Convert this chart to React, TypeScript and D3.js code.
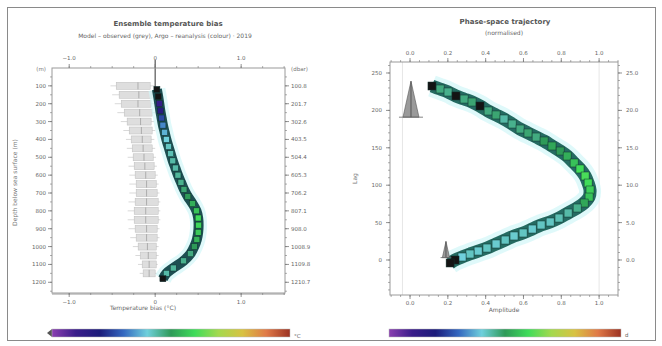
import React from 'react';
import * as d3 from 'd3';

const W = 662;
const H = 346;

// colour map (colour bar)
const cmapStops = [0, 0.1, 0.2, 0.3, 0.4, 0.5, 0.6, 0.7, 0.8, 0.9, 1];
const cmapColors = ['#8a3fb0', '#3a1d8a', '#1c1c7a', '#3468c0', '#6fd0dc', '#2e9a58', '#3fdc5a', '#a4d94e', '#d8c242', '#e07a48', '#9c3222'];

// left panel: depth profile
const depthTicks = [100, 200, 300, 400, 500, 600, 700, 800, 900, 1000, 1100, 1200];
const presLabels = ['100.8', '201.7', '302.6', '403.5', '504.4', '605.3', '706.2', '807.1', '908.0', '1008.9', '1109.8', '1210.7'];
const leftXTicks = [-1, 0, 1];

const profDepth = [120, 160, 200, 240, 280, 320, 360, 400, 440, 480, 520, 560, 600, 640, 680, 720, 760, 800, 840, 880, 920, 960, 1000, 1040, 1080, 1120, 1150, 1180];
const profValue = [0.02, 0.035, 0.048, 0.06, 0.075, 0.09, 0.11, 0.13, 0.155, 0.18, 0.205, 0.235, 0.265, 0.3, 0.335, 0.38, 0.435, 0.48, 0.5, 0.505, 0.5, 0.485, 0.455, 0.41, 0.33, 0.21, 0.13, 0.09];
const profColor = [-1, -1, 0.12, 0.16, 0.26, 0.33, 0.37, 0.4, 0.42, 0.43, 0.44, 0.44, 0.45, 0.46, 0.48, 0.5, 0.53, 0.56, 0.6, 0.59, 0.57, 0.54, 0.5, 0.47, 0.46, 0.45, 0.44, -1];

const boxDepth = [100, 150, 200, 250, 300, 350, 400, 450, 500, 550, 600, 650, 700, 750, 800, 850, 900, 950, 1000, 1050, 1100, 1150];
const boxQ1 = [-0.453, -0.419, -0.395, -0.36, -0.326, -0.302, -0.279, -0.267, -0.256, -0.244, -0.233, -0.221, -0.221, -0.233, -0.244, -0.244, -0.233, -0.221, -0.198, -0.174, -0.151, -0.14];
const boxQ3 = [-0.058, -0.035, -0.047, -0.035, -0.047, -0.035, -0.047, -0.035, -0.023, -0.012, 0, 0.012, 0.023, 0.035, 0.035, 0.035, 0.023, 0.023, 0.012, 0.012, 0.012, 0];
const boxMed = [-0.2, -0.19, -0.2, -0.18, -0.17, -0.16, -0.15, -0.14, -0.13, -0.12, -0.11, -0.1, -0.1, -0.1, -0.11, -0.11, -0.1, -0.1, -0.09, -0.08, -0.07, -0.07];
const boxLo = [-0.52, -0.5, -0.47, -0.44, -0.4, -0.37, -0.34, -0.33, -0.32, -0.31, -0.3, -0.3, -0.3, -0.31, -0.32, -0.32, -0.31, -0.29, -0.26, -0.23, -0.2, -0.18];
const boxHi = [-0.01, 0.0, -0.01, 0.0, -0.01, 0.0, -0.01, 0.0, 0.01, 0.02, 0.03, 0.04, 0.05, 0.06, 0.06, 0.06, 0.05, 0.05, 0.04, 0.04, 0.03, 0.02];

// right panel: trajectory
const rightXTicks = [0, 0.2, 0.4, 0.6, 0.8, 1.0];
const rightYTicks = [250, 200, 150, 100, 50, 0];
const rightYLabels2 = ['25.0', '20.0', '15.0', '10.0', '5.0', '0.0'];

const trajX = [0.116, 0.159, 0.201, 0.243, 0.286, 0.328, 0.37, 0.413, 0.455, 0.497, 0.54, 0.582, 0.624, 0.667, 0.709, 0.751, 0.794, 0.831, 0.868, 0.899, 0.926, 0.942, 0.952, 0.947, 0.921, 0.884, 0.836, 0.788, 0.741, 0.693, 0.646, 0.598, 0.55, 0.503, 0.455, 0.407, 0.36, 0.317, 0.275, 0.238, 0.212];
const trajY = [232.6, 228.6, 224.6, 219.3, 215.2, 211.2, 205.9, 199.2, 193.9, 188.5, 181.8, 175.1, 169.8, 164.4, 159.1, 152.4, 145.7, 139.0, 129.7, 121.7, 112.3, 102.9, 93.6, 84.2, 76.2, 69.5, 62.8, 56.1, 50.8, 46.8, 41.4, 36.1, 32.1, 26.7, 21.4, 16.0, 12.0, 8.0, 4.0, 0, -4.0];
const trajC = [-1, 0.47, 0.46, -1, 0.47, 0.48, -1, 0.47, 0.48, 0.44, 0.46, 0.47, 0.48, 0.47, 0.5, 0.52, 0.5, 0.53, 0.56, 0.6, 0.61, 0.6, 0.58, 0.56, 0.52, 0.46, 0.44, 0.43, 0.42, 0.42, 0.41, 0.42, 0.41, 0.42, 0.41, 0.42, 0.41, 0.42, 0.4, -1, -1];

const glyphX = [0.005, 0.19];
const glyphY = [215, 14];
const glyphSize = [1, 0.45];

const cmap = d3.scaleLinear<string>().domain(cmapStops).range(cmapColors).interpolate(d3.interpolateRgb).clamp(true);
const colorOf = (c: number) => (c < 0 ? '#141414' : cmap(c));

const font = 'DejaVu Sans, sans-serif';
const tickColor = '#777';
const frameColor = '#9a9a9a';

const App: React.FC = () => {
  // left scales
  const xL = d3.scaleLinear().domain([-1.2, 1.51]).range([52, 285]);
  const yL = d3.scaleLinear().domain([0, 1260]).range([68, 293]);
  // right scales
  const xR = d3.scaleLinear().domain([-0.106, 1.1]).range([390, 618]);
  const yR = d3.scaleLinear().domain([-46.8, 264.7]).range([295, 62]);

  const profPts = profDepth.map((d, i) => [xL(profValue[i]), yL(d)] as [number, number]);
  const trajPts = trajX.map((x, i) => [xR(x), yR(trajY[i])] as [number, number]);
  const line = d3.line().curve(d3.curveCatmullRom);

  const minorDepth = d3.range(50, 1260, 50);
  const minorLX = d3.range(-1.0, 1.51, 0.25);
  const minorRX = d3.range(-0.1, 1.1, 0.05);
  const minorRY = d3.range(-40, 264, 10);

  const [lx0, lx1] = xL.range();
  const [ly0, ly1] = yL.range();
  const [rx0, rx1] = xR.range();
  const [ry0, ry1] = yR.range();

  return (
    <svg width={W} height={H} style={{ position: 'absolute', left: 0, top: 0, background: '#fff' }} fontFamily={font}>
      <defs>
        <linearGradient id="cbar" x1="0" x2="1" y1="0" y2="0">
          {cmapStops.map((s, i) => (
            <stop key={i} offset={s} stopColor={cmapColors[i]} />
          ))}
        </linearGradient>
      </defs>
      <rect x={7.5} y={7.5} width={648} height={333} fill="none" stroke="#8a8a8a" strokeWidth={1} />

      {/* ---------- LEFT PANEL ---------- */}
      <text x={168} y={26} textAnchor="middle" fontSize={7} fontWeight="bold" fill="#555">Ensemble temperature bias</text>
      <text x={165} y={38} textAnchor="middle" fontSize={6} fill="#666">Model – observed (grey),  Argo – reanalysis (colour) · 2019</text>

      {/* box plots (ensemble) */}
      {boxDepth.map((d, i) => (
        <g key={'b' + i}>
          <line x1={xL(boxLo[i])} x2={xL(boxHi[i])} y1={yL(d)} y2={yL(d)} stroke="#cfcfcf" strokeWidth={0.8} />
          <rect x={xL(boxQ1[i])} y={yL(d) - 3.5} width={xL(boxQ3[i]) - xL(boxQ1[i])} height={7} fill="#dedede" stroke="#bcbcbc" strokeWidth={0.5} />
          <line x1={xL(boxMed[i])} x2={xL(boxMed[i])} y1={yL(d) - 3.5} y2={yL(d) + 3.5} stroke="#a0a0a0" strokeWidth={0.8} />
        </g>
      ))}

      {/* zero reference */}
      <line x1={xL(0)} x2={xL(0)} y1={ly0 - 8} y2={yL(200)} stroke="#555" strokeWidth={1.2} />

      {/* profile */}
      <path d={line(profPts) || ''} fill="none" stroke="#d2f6f8" strokeWidth={17} strokeLinejoin="round" opacity={0.7} />
      <path d={line(profPts) || ''} fill="none" stroke="#1d4f52" strokeWidth={10} strokeLinejoin="round" />
      {profPts.map((p, i) => (
        <rect key={'p' + i} x={p[0] - 3} y={p[1] - 3} width={6} height={6} fill={colorOf(profColor[i])} stroke="#0f2e2e" strokeWidth={0.5} />
      ))}

      {/* frame */}
      <rect x={lx0} y={ly0} width={lx1 - lx0} height={ly1 - ly0} fill="none" stroke={frameColor} strokeWidth={1} />
      <line x1={lx0} x2={lx1} y1={ly1 + 1} y2={ly1 + 1} stroke={frameColor} strokeWidth={1} />

      {/* left / right depth ticks */}
      {minorDepth.map((d) => (
        <g key={'md' + d}>
          <line x1={lx0 - 2} x2={lx0} y1={yL(d)} y2={yL(d)} stroke={tickColor} strokeWidth={0.6} />
          <line x1={lx1} x2={lx1 + 2} y1={yL(d)} y2={yL(d)} stroke={tickColor} strokeWidth={0.6} />
        </g>
      ))}
      {depthTicks.map((d, i) => (
        <g key={'dt' + d}>
          <line x1={lx0 - 4} x2={lx0} y1={yL(d)} y2={yL(d)} stroke={tickColor} strokeWidth={0.8} />
          <line x1={lx1} x2={lx1 + 4} y1={yL(d)} y2={yL(d)} stroke={tickColor} strokeWidth={0.8} />
          <text x={lx0 - 6} y={yL(d) + 2} textAnchor="end" fontSize={5.5} fill="#666">{d}</text>
          <text x={lx1 + 6} y={yL(d) + 2} textAnchor="start" fontSize={5.5} fill="#666">{presLabels[i]}</text>
        </g>
      ))}
      <text x={lx0 - 6} y={ly0 + 3} textAnchor="end" fontSize={5.5} fill="#777">(m)</text>
      <text x={lx1 + 6} y={ly0 + 3} textAnchor="start" fontSize={5.5} fill="#777">(dbar)</text>

      {/* x ticks */}
      {minorLX.map((v, i) => (
        <g key={'mlx' + i}>
          <line x1={xL(v)} x2={xL(v)} y1={ly0 - 2} y2={ly0} stroke={tickColor} strokeWidth={0.6} />
          <line x1={xL(v)} x2={xL(v)} y1={ly1} y2={ly1 + 2} stroke={tickColor} strokeWidth={0.6} />
        </g>
      ))}
      {leftXTicks.map((v) => (
        <g key={'lx' + v}>
          <line x1={xL(v)} x2={xL(v)} y1={ly0 - 4} y2={ly0} stroke={tickColor} strokeWidth={0.8} />
          <line x1={xL(v)} x2={xL(v)} y1={ly1} y2={ly1 + 4} stroke={tickColor} strokeWidth={0.8} />
          <text x={xL(v)} y={ly0 - 8} textAnchor="middle" fontSize={5.5} fill="#666">{v === 0 ? '0' : d3.format('.1f')(v)}</text>
          <text x={xL(v)} y={ly1 + 11} textAnchor="middle" fontSize={5.5} fill="#666">{v === 0 ? '0' : d3.format('.1f')(v)}</text>
        </g>
      ))}
      <text x={143} y={310} textAnchor="middle" fontSize={6} fill="#666">Temperature bias (°C)</text>
      <text transform={`translate(17,${(ly0 + ly1) / 2 + 2}) rotate(-90)`} textAnchor="middle" fontSize={6} fill="#777">Depth below sea surface (m)</text>

      {/* colour bar */}
      <path d={`M${lx0},329 L${lx0 - 5},333 L${lx0},337 Z`} fill="#555" />
      <rect x={lx0} y={329} width={290 - lx0} height={8} fill="url(#cbar)" stroke="#bbb" strokeWidth={0.5} />
      <text x={294} y={338} fontSize={5.5} fill="#666">°C</text>

      {/* ---------- RIGHT PANEL ---------- */}
      <text x={505} y={24} textAnchor="middle" fontSize={7} fontWeight="bold" fill="#555">Phase-space trajectory</text>
      <text x={504} y={35} textAnchor="middle" fontSize={6} fill="#666">(normalised)</text>

      <line x1={xR(-0.04)} x2={xR(-0.04)} y1={ry1} y2={ry0} stroke="#e0e0e0" strokeWidth={0.8} />
      <line x1={xR(1.0)} x2={xR(1.0)} y1={ry1} y2={ry0} stroke="#e0e0e0" strokeWidth={0.8} />

      <path d={line(trajPts) || ''} fill="none" stroke="#d2f6f8" strokeWidth={22} strokeLinejoin="round" opacity={0.7} />
      <path d={line(trajPts) || ''} fill="none" stroke="#256b62" strokeWidth={13} strokeLinejoin="round" />
      {trajPts.map((p, i) => (
        <rect key={'t' + i} x={p[0] - 4} y={p[1] - 4} width={8} height={8} fill={colorOf(trajC[i])} stroke="#12342f" strokeWidth={0.5} />
      ))}

      {/* glyphs at start/end */}
      {glyphX.map((gx, i) => {
        const cx = xR(gx);
        const cy = yR(glyphY[i]);
        const s = glyphSize[i];
        return (
          <g key={'g' + i}>
            <path d={`M${cx - 8 * s},${cy + 18 * s} L${cx},${cy - 18 * s} L${cx + 8 * s},${cy + 18 * s} Z`} fill="#9a9a9a" stroke="#555" strokeWidth={0.6} />
            <line x1={cx} x2={cx} y1={cy - 18 * s} y2={cy + 18 * s} stroke="#444" strokeWidth={0.8} />
            <line x1={cx - 12 * s} x2={cx + 12 * s} y1={cy + 18 * s} y2={cy + 18 * s} stroke="#666" strokeWidth={0.8} />
          </g>
        );
      })}

      <rect x={rx0} y={ry1} width={rx1 - rx0} height={ry0 - ry1} fill="none" stroke={frameColor} strokeWidth={1} />

      {minorRX.map((v, i) => (
        <g key={'mrx' + i}>
          <line x1={xR(v)} x2={xR(v)} y1={ry1 - 2} y2={ry1} stroke={tickColor} strokeWidth={0.6} />
          <line x1={xR(v)} x2={xR(v)} y1={ry0} y2={ry0 + 2} stroke={tickColor} strokeWidth={0.6} />
        </g>
      ))}
      {minorRY.map((v, i) => (
        <g key={'mry' + i}>
          <line x1={rx0 - 2} x2={rx0} y1={yR(v)} y2={yR(v)} stroke={tickColor} strokeWidth={0.6} />
          <line x1={rx1} x2={rx1 + 2} y1={yR(v)} y2={yR(v)} stroke={tickColor} strokeWidth={0.6} />
        </g>
      ))}
      {rightXTicks.map((v) => (
        <g key={'rx' + v}>
          <line x1={xR(v)} x2={xR(v)} y1={ry1 - 4} y2={ry1} stroke={tickColor} strokeWidth={0.8} />
          <line x1={xR(v)} x2={xR(v)} y1={ry0} y2={ry0 + 4} stroke={tickColor} strokeWidth={0.8} />
          <text x={xR(v)} y={ry1 - 7} textAnchor="middle" fontSize={5.5} fill="#666">{d3.format('.1f')(v)}</text>
          <text x={xR(v)} y={ry0 + 10} textAnchor="middle" fontSize={5.5} fill="#666">{d3.format('.1f')(v)}</text>
        </g>
      ))}
      {rightYTicks.map((v, i) => (
        <g key={'ry' + v}>
          <line x1={rx0 - 4} x2={rx0} y1={yR(v)} y2={yR(v)} stroke={tickColor} strokeWidth={0.8} />
          <line x1={rx1} x2={rx1 + 4} y1={yR(v)} y2={yR(v)} stroke={tickColor} strokeWidth={0.8} />
          <text x={rx0 - 8} y={yR(v) + 2} textAnchor="end" fontSize={5.5} fill="#666">{v}</text>
          <text x={rx1 + 8} y={yR(v) + 2} textAnchor="start" fontSize={5.5} fill="#666">{rightYLabels2[i]}</text>
        </g>
      ))}
      <text x={504} y={312} textAnchor="middle" fontSize={6} fill="#666">Amplitude</text>
      <text transform={`translate(357,${(ry0 + ry1) / 2}) rotate(-90)`} textAnchor="middle" fontSize={6} fill="#777">Lag</text>

      <rect x={389} y={329} width={621 - 389} height={8} fill="url(#cbar)" stroke="#bbb" strokeWidth={0.5} />
      <text x={625} y={337} fontSize={5.5} fill="#666">d</text>
    </svg>
  );
};

export default App;
